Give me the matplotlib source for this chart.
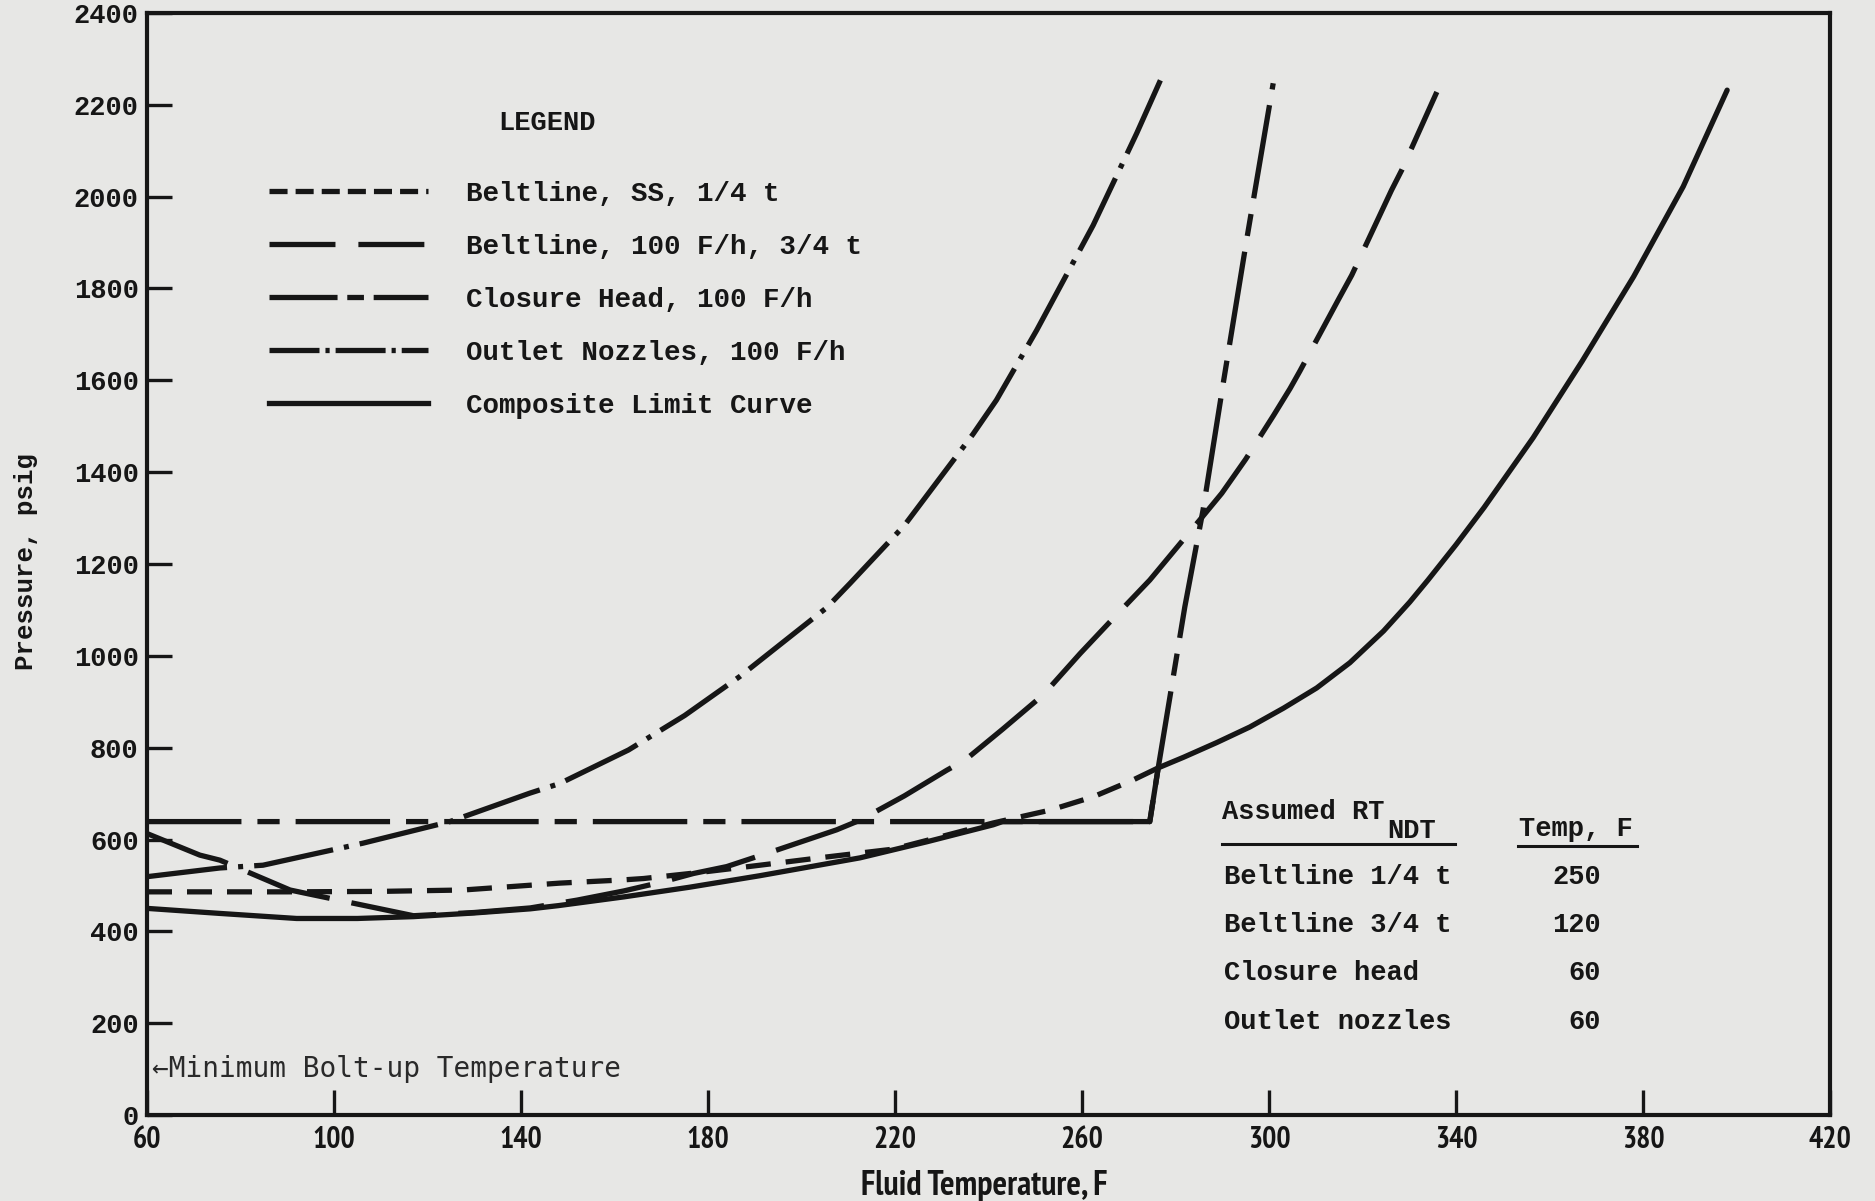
import matplotlib
matplotlib.use("Agg")
import matplotlib.pyplot as plt
from matplotlib.lines import Line2D
from matplotlib import font_manager as fm
from matplotlib.textpath import TextPath

plt.rcParams['lines.scale_dashes'] = False

# ---------------- data ----------------
x_ticks = [60, 100, 140, 180, 220, 260, 300, 340, 380, 420]
y_ticks = [0, 200, 400, 600, 800, 1000, 1200, 1400, 1600, 1800, 2000, 2200, 2400]

# Beltline, SS, 1/4 t
ss14_T = [60, 90, 110, 127.6, 148.3, 161.8, 166.2, 178, 191.1, 205.4, 219.6, 226.8, 241, 253.2, 262.4, 271, 276.3]
ss14_P = [486, 486, 487, 490, 505, 512, 515, 528, 544, 562, 579, 598, 636, 664, 693, 730, 756]

# Beltline, 100 F/h, 3/4 t
b34_T = [60, 71.3, 75.6, 90.6, 93.4, 117, 130, 142, 152, 162, 170, 176.9, 184, 195, 207.5, 212.5, 222,
         231.1, 235, 243, 251.7, 259.6, 267, 274.5, 285.2, 289.9, 295, 301, 304.5, 306.6, 314.8, 317.7,
         326.2, 328.4, 335.9]
b34_P = [613, 566, 555, 490, 484, 434, 441, 451, 468, 488, 507, 526, 541, 578, 621, 642, 695,
         751, 773, 840, 915, 1005, 1085, 1165, 1296, 1354, 1428, 1524, 1582, 1620, 1775, 1829,
         2014, 2058, 2228]

# Closure Head, 100 F/h
ch_T = [60, 274.5, 276.3, 282.0, 285.9, 290.2, 295.2, 300.9]
ch_P = [639, 639, 756, 1107, 1318, 1593, 1905, 2247]

# Outlet Nozzles, 100 F/h
on_T = [60, 75.6, 84.8, 106.2, 124.8, 141.9, 148.3, 163, 175, 186.8, 205.4, 210.4, 222, 236.7, 241.7,
        250.3, 262.4, 271.7, 277.1]
on_P = [519, 538, 544, 592, 639, 701, 722, 795, 870, 955, 1105, 1158, 1284, 1483, 1557,
        1709, 1938, 2138, 2261]

# Composite Limit Curve
comp_T = [60, 75.6, 92, 105, 117, 130, 142, 148, 162, 176, 191, 212.5, 226.8, 241, 243, 274.5, 276.3,
          281.7, 288.8, 295.9, 303.1, 310.2, 317.3, 324.5, 330.1, 334, 340, 346, 356.5, 367, 378, 388.6, 398]
comp_P = [450, 439, 428, 428, 432, 440, 449, 456, 475, 496, 521, 560, 595, 632, 639, 639, 756,
          779, 811, 845, 886, 930, 985, 1054, 1117, 1165, 1242, 1323, 1475, 1642, 1826, 2022, 2232]

legend_labels = ["Beltline, SS, 1/4 t", "Beltline, 100 F/h, 3/4 t", "Closure Head, 100 F/h",
                 "Outlet Nozzles, 100 F/h", "Composite Limit Curve"]
table_components = ["Beltline 1/4 t", "Beltline 3/4 t", "Closure head", "Outlet nozzles"]
table_rtndt = [250, 120, 60, 60]

# ---------------- style ----------------
W, H = 1875, 1201
BG = '#e7e7e5'
INK = '#161616'
MONO = ['Liberation Mono', 'DejaVu Sans Mono']
LW = 3.8


def pick_narrow_bold():
    """Find a condensed / narrow bold sans face among the installed fonts."""
    best, best_score = None, 0
    for f in fm.fontManager.ttflist:
        key = (f.name + ' ' + f.fname).lower()
        w = f.weight if isinstance(f.weight, (int, float)) else (700 if 'bold' in str(f.weight).lower() else 400)
        if w < 600 or 'mono' in key or 'italic' in key or 'oblique' in key or 'serif' in key.replace('sans', ''):
            continue
        score = 0
        if 'narrow' in key:
            score = 10
        elif 'extracondensed' in key or 'extra condensed' in key:
            score = 6
        elif 'semicondensed' in key or 'semi condensed' in key:
            score = 5
        elif 'condensed' in key:
            score = 8
        if 'extrabold' in key or 'black' in key:
            score -= 2
        if score > best_score:
            best, best_score = f, score
    if best is not None:
        return fm.FontProperties(fname=best.fname)
    return fm.FontProperties(family=['Liberation Sans', 'DejaVu Sans'], weight='bold')


NARROW_FP = pick_narrow_bold()


def fit_size(text, target_pt, max_size):
    ext = TextPath((0, 0), text, size=10, prop=NARROW_FP).get_extents()
    s = target_pt / ext.width * 10
    return min(s, max_size)


XT_SIZE = min(fit_size("100", 37 * 0.72, 30) * 1.15, 21.5)
XL_SIZE = fit_size("Fluid Temperature, F", 329 * 0.72, 24.5)

fig = plt.figure(figsize=(W / 100, H / 100), dpi=100, facecolor=BG)


def fx(px):
    return px / W


def fy(py):
    return 1 - py / H


AX_L, AX_R, AX_T, AX_B = 147, 1830, 13, 1115
ax = fig.add_axes([fx(AX_L), fy(AX_B), (AX_R - AX_L) / W, (AX_B - AX_T) / H])
ax.set_facecolor(BG)
ax.set_xlim(60, 420)
ax.set_ylim(0, 2400)


def axx(px):
    return (px - AX_L) / (AX_R - AX_L)


def axy(py):
    return (AX_B - py) / (AX_B - AX_T)


for s in ax.spines.values():
    s.set_linewidth(3.0)
    s.set_color(INK)

ax.set_xticks(x_ticks)
ax.set_yticks(y_ticks)
xt_fp = NARROW_FP.copy()
xt_fp.set_size(XT_SIZE)
ax.set_xticklabels([str(v) for v in x_ticks], fontproperties=xt_fp, color=INK)
ax.set_yticklabels([str(v) for v in y_ticks], fontfamily=MONO, fontweight='bold', fontsize=19.5, color=INK)
ax.tick_params(direction='in', length=18, width=2.4, color=INK, top=False, right=False)
ax.tick_params(axis='x', pad=8)
ax.tick_params(axis='y', pad=6)

# curves
ax.plot(ss14_T, ss14_P, color=INK, lw=LW, dashes=(18, 10.8))
ax.plot(b34_T, b34_P, color=INK, lw=LW, dashes=(62, 16))
ax.plot(ch_T, ch_P, color=INK, lw=LW, dashes=(68, 11.5, 16, 11.5))
ax.plot(on_T, on_P, color=INK, lw=LW, dashes=(58, 8, 3.6, 8))
ax.plot(comp_T, comp_P, color=INK, lw=LW, solid_joinstyle='round', solid_capstyle='round')

# legend
handles = [
    Line2D([], [], color=INK, lw=LW, dashes=(13, 5.8)),
    Line2D([], [], color=INK, lw=LW, dashes=(47.5, 16.5)),
    Line2D([], [], color=INK, lw=LW, dashes=(49, 7, 12, 7)),
    Line2D([], [], color=INK, lw=LW, dashes=(36, 4.3, 3, 4.3)),
    Line2D([], [], color=INK, lw=LW),
]
leg = ax.legend(handles, legend_labels, loc='upper left', bbox_to_anchor=(axx(269), axy(181)),
                frameon=False, borderpad=0, borderaxespad=0, handlelength=114.5 / 19.8,
                handletextpad=27.4 / 19.8, labelspacing=0.98,
                prop={'family': MONO, 'weight': 'bold', 'size': 19.8})
for t in leg.get_texts():
    t.set_color(INK)

ax.text(axx(547), axy(123), "LEGEND", transform=ax.transAxes, ha='center', va='center',
        fontfamily=MONO, fontweight='bold', fontsize=19.5, color=INK)

# axis labels
xl_fp = NARROW_FP.copy()
xl_fp.set_size(XL_SIZE)
ax.set_xlabel("Fluid Temperature, F", fontproperties=xl_fp, color=INK, va='center')
ax.xaxis.set_label_coords(axx(984), axy(1186))
ax.set_ylabel("Pressure, psig", fontfamily=MONO, fontweight='bold', fontsize=18.5, color=INK, va='center')
ax.yaxis.set_label_coords(axx(26), axy(562))

# minimum bolt-up annotation
fig.text(fx(152), fy(1069), "\u2190Minimum Bolt-up Temperature", fontfamily=['DejaVu Sans Mono'],
         fontsize=20, color='#2a2a2a', va='center', ha='left')

# table
tprops = dict(fontfamily=MONO, fontweight='bold', fontsize=19.5, color=INK)
fig.text(fx(1222), fy(812), "Assumed RT", ha='left', va='center', **tprops)
fig.text(fx(1387), fy(831), "NDT", ha='left', va='center', **tprops)
fig.text(fx(1519), fy(829), "Temp, F", ha='left', va='center', **tprops)
fig.add_artist(Line2D([fx(1222), fx(1455)], [fy(844), fy(844)], color=INK, lw=2.2))
fig.add_artist(Line2D([fx(1518), fx(1637)], [fy(846), fy(846)], color=INK, lw=2.2))
row_y = [877, 925, 973, 1022]
for name, val, yy in zip(table_components, table_rtndt, row_y):
    fig.text(fx(1224), fy(yy), name, ha='left', va='center', **tprops)
    fig.text(fx(1601), fy(yy), str(val), ha='right', va='center', **tprops)

fig.savefig("out.png", dpi=100, facecolor=BG)
